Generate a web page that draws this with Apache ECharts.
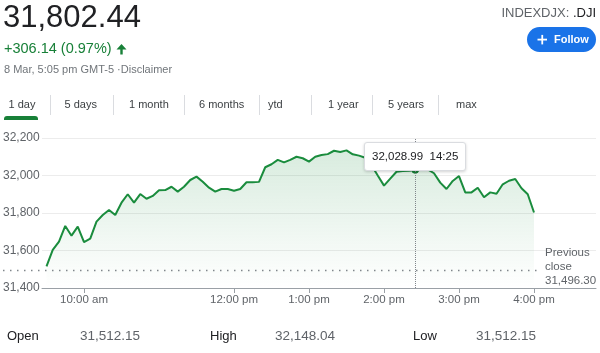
<!DOCTYPE html>
<html>
<head>
<meta charset="utf-8">
<script src="https://cdn.jsdelivr.net/npm/echarts@6/dist/echarts.min.js"></script>
<style>
html, body { margin: 0; padding: 0; background: #fff; }
#chart { width: 600px; height: 353px; }
</style>
</head>
<body>
<div id="chart"></div>
<script>
// intraday Dow Jones, 5 minute steps
var times = [
  '09:30','09:35','09:40','09:45','09:50','09:55',
  '10:00','10:05','10:10','10:15','10:20','10:25','10:30','10:35','10:40','10:45','10:50','10:55',
  '11:00','11:05','11:10','11:15','11:20','11:25','11:30','11:35','11:40','11:45','11:50','11:55',
  '12:00','12:05','12:10','12:15','12:20','12:25','12:30','12:35','12:40','12:45','12:50','12:55',
  '13:00','13:05','13:10','13:15','13:20','13:25','13:30','13:35','13:40','13:45','13:50','13:55',
  '14:00','14:05','14:10','14:15','14:20','14:25','14:30','14:35','14:40','14:45','14:50','14:55',
  '15:00','15:05','15:10','15:15','15:20','15:25','15:30','15:35','15:40','15:45','15:50','15:55',
  '16:00'
];
var prices = [
  31515, 31603, 31647, 31731, 31679, 31727,
  31645, 31663, 31754, 31789, 31816, 31789, 31855, 31900, 31855, 31901, 31876, 31891,
  31921, 31922, 31940, 31914, 31940, 31976, 31994, 31967, 31935, 31914, 31928, 31928,
  31919, 31928, 31964, 31964, 31966, 32044, 32060, 32083, 32070, 32083, 32100, 32092,
  32074, 32100, 32109, 32114, 32132, 32125, 32134, 32113, 32106, 32095, 32055, 32000,
  31946, 31983, 32020, 32024, 32025, 32028.99, 32038, 32033, 32012, 31962, 31928, 31971,
  31997, 31910, 31910, 31935, 31884, 31910, 31903, 31953, 31972, 31981, 31932, 31900,
  31802.44
];
var tickTimes = ['10:00', '12:00', '13:00', '14:00', '15:00', '16:00'];
var previousClose = 31496.30;
var hoverTime = '14:25';
var lastPrice = '31,802.44';
var change = '+306.14 (0.97%)';
var stampText = '8 Mar, 5:05 pm GMT-5 \u00b7Disclaimer';
var rangeTabs = ['1 day', '5 days', '1 month', '6 months', 'ytd', '1 year', '5 years', 'max'];
var summaryLabels = ['Open', 'High', 'Low'];
var summaryValues = ['31,512.15', '32,148.04', '31,512.15'];

var FONT = '"Liberation Sans", Arial, sans-serif';
var GREEN = '#188038';

function toMinutes(t) {
  var p = t.split(':');
  return +p[0] * 60 + +p[1];
}
function clockLabel(m) {
  var h = Math.floor(m / 60), mm = m % 60;
  var h12 = h % 12 === 0 ? 12 : h % 12;
  return h12 + ':' + (mm < 10 ? '0' : '') + mm + ' ' + (h >= 12 ? 'pm' : 'am');
}
function fmt2(v) {
  return v.toLocaleString('en-US', {minimumFractionDigits: 2, maximumFractionDigits: 2});
}

var seriesData = times.map(function (t, i) { return [toMinutes(t), prices[i]]; });
var tickValues = tickTimes.map(toMinutes);
var hoverIndex = times.indexOf(hoverTime);

var chart = echarts.init(document.getElementById('chart'));

chart.setOption({
  animation: false,
  grid: {left: 42, right: 4, top: 138, bottom: 65},
  xAxis: {
    type: 'value',
    min: 566.4,
    max: 1009.6,
    splitLine: {show: false},
    axisLine: {lineStyle: {color: '#9aa0a6', width: 1}},
    axisTick: {customValues: tickValues, length: 5, lineStyle: {color: '#9aa0a6'}},
    axisLabel: {
      customValues: tickValues,
      formatter: function (v) { return clockLabel(v); },
      color: '#5f6368', fontSize: 11.5, fontFamily: FONT, margin: 6
    }
  },
  yAxis: {
    type: 'value',
    min: 31400,
    max: 32200,
    interval: 200,
    axisLine: {show: false},
    axisTick: {show: false},
    splitLine: {lineStyle: {color: '#ececec'}},
    axisLabel: {
      formatter: function (v) { return v.toLocaleString('en-US'); },
      color: '#5f6368', fontSize: 12, fontFamily: FONT, align: 'left', margin: 39
    }
  },
  tooltip: {
    trigger: 'axis',
    triggerOn: 'none',
    alwaysShowContent: true,
    transitionDuration: 0,
    backgroundColor: '#fff',
    borderColor: '#dadce0',
    borderWidth: 1,
    borderRadius: 3,
    padding: [5, 7],
    extraCssText: 'box-shadow:0 1px 3px rgba(0,0,0,0.18);',
    textStyle: {color: '#202124', fontSize: 11.5, fontFamily: FONT},
    axisPointer: {
      type: 'line',
      lineStyle: {color: '#80868b', type: 'dotted', width: 1},
      label: {show: false}
    },
    formatter: function (params) {
      var v = params[0].value;
      var h = Math.floor(v[0] / 60), m = v[0] % 60;
      return fmt2(v[1]) + '&nbsp;&nbsp;' + h + ':' + (m < 10 ? '0' : '') + m;
    },
    position: function (point, params, dom, rect, size) {
      return [point[0] - size.contentSize[0] / 2, 142];
    }
  },
  series: [{
    type: 'line',
    data: seriesData,
    showSymbol: false,
    symbol: 'circle',
    symbolSize: 7,
    itemStyle: {color: GREEN},
    lineStyle: {color: GREEN, width: 2},
    emphasis: {scale: false, lineStyle: {width: 2}},
    areaStyle: {
      color: new echarts.graphic.LinearGradient(0, 0, 0, 1, [
        {offset: 0, color: 'rgba(24,128,56,0.24)'},
        {offset: 1, color: 'rgba(24,128,56,0)'}
      ])
    },
    markPoint: {
      symbol: 'circle',
      symbolSize: 7,
      silent: true,
      itemStyle: {color: GREEN},
      label: {show: false},
      data: [{coord: seriesData[hoverIndex]}]
    }
  }]
});

// previous close line and label follow the y scale
var closePt = chart.convertToPixel({gridIndex: 0}, [toMinutes(times[times.length - 1]), previousClose]);

var tabX = [8.5, 64.5, 129, 199, 268, 328, 388, 456];
var sepX = [50, 113, 184, 259, 311, 372, 438];
var sumX = [[7, 80], [210, 275], [413, 476]];

var g = [];
function txt(x, y, s, size, fill, extra) {
  var st = {text: s, fontSize: size, fontFamily: FONT, fill: fill, verticalAlign: 'middle', align: 'left'};
  for (var k in extra) st[k] = extra[k];
  g.push({type: 'text', x: x, y: y, style: st, silent: true});
}

// header
txt(3, 18, lastPrice, 31, '#202124');
txt(4, 49, change, 14.5, GREEN);
g.push({type: 'polygon', silent: true, shape: {points: [[121.5, 44], [116.5, 49.5], [120.3, 49.5], [120.3, 54.5], [122.7, 54.5], [122.7, 49.5], [126.5, 49.5]]}, style: {fill: GREEN}});
txt(4, 70, stampText, 11, '#70757a');
g.push({type: 'text', x: 596, y: 13, silent: true, style: {
  text: '{a|INDEXDJX: }{b|.DJI}', align: 'right', verticalAlign: 'middle',
  rich: {a: {fontSize: 13, fontFamily: FONT, fill: '#5f6368'}, b: {fontSize: 13, fontFamily: FONT, fill: '#202124'}}
}});
g.push({type: 'rect', silent: true, shape: {x: 527, y: 27, width: 69, height: 25, r: 12.5}, style: {fill: '#1a73e8'}});
g.push({type: 'rect', silent: true, shape: {x: 537.5, y: 38.7, width: 9.5, height: 1.8}, style: {fill: '#fff'}});
g.push({type: 'rect', silent: true, shape: {x: 541.35, y: 34.9, width: 1.8, height: 9.5}, style: {fill: '#fff'}});
txt(554, 40, 'Follow', 11, '#fff', {fontWeight: 'bold'});

// range tabs
rangeTabs.forEach(function (t, i) { txt(tabX[i], 105, t, 11, '#3c4043'); });
sepX.forEach(function (x) {
  g.push({type: 'line', silent: true, shape: {x1: x + 0.5, y1: 95, x2: x + 0.5, y2: 115}, style: {stroke: '#dadce0', lineWidth: 1}});
});
g.push({type: 'rect', silent: true, shape: {x: 4, y: 116, width: 34, height: 4, r: [3, 3, 0, 0]}, style: {fill: GREEN}});

// previous close
g.push({type: 'line', silent: true, z: 10,
  shape: {x1: 3, y1: Math.round(closePt[1]) + 0.5, x2: closePt[0] + 4, y2: Math.round(closePt[1]) + 0.5},
  style: {stroke: '#80868b', lineWidth: 1.5, lineDash: [1.5, 5.5]}});
txt(545, closePt[1] - 3, 'Previous\nclose\n' + fmt2(previousClose), 11.5, '#5f6368', {lineHeight: 14});

// summary row
summaryLabels.forEach(function (s, i) {
  txt(sumX[i][0], 336, s, 13, '#202124');
  txt(sumX[i][1], 336, summaryValues[i], 13.5, '#5f6368');
});

chart.setOption({graphic: g});
chart.dispatchAction({type: 'showTip', seriesIndex: 0, dataIndex: hoverIndex});
</script>
</body>
</html>
